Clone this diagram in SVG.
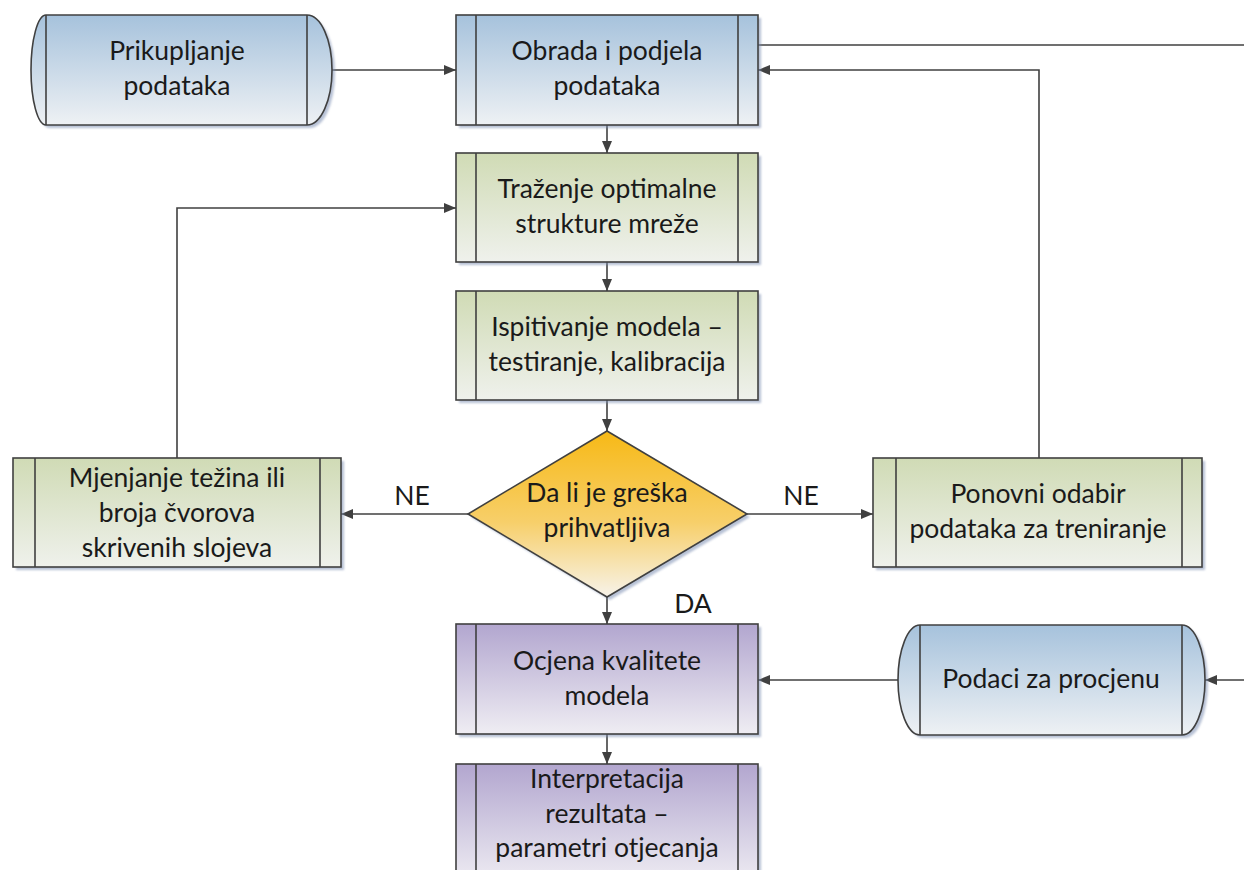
<svg xmlns="http://www.w3.org/2000/svg" width="1244" height="870" viewBox="0 0 1244 870">
<defs>
<linearGradient id="gBlue" x1="0" y1="0" x2="0" y2="1"><stop offset="0" stop-color="#a6c2dc"/><stop offset="1" stop-color="#eef1f4"/></linearGradient>
<linearGradient id="gGreen" x1="0" y1="0" x2="0" y2="1"><stop offset="0" stop-color="#d0dbb5"/><stop offset="1" stop-color="#eff1ec"/></linearGradient>
<linearGradient id="gPurple" x1="0" y1="0" x2="0" y2="1"><stop offset="0" stop-color="#b2a6cf"/><stop offset="1" stop-color="#efedf3"/></linearGradient>
<linearGradient id="gYellow" x1="0" y1="0" x2="0" y2="1"><stop offset="0" stop-color="#f7b916"/><stop offset="0.55" stop-color="#f7cf6a"/><stop offset="1" stop-color="#f7f3ea"/></linearGradient>
<filter id="sh" x="-5%" y="-5%" width="115%" height="120%"><feGaussianBlur stdDeviation="1.2"/></filter>
<marker id="ar" viewBox="0 0 12 10" refX="12" refY="5" markerWidth="12" markerHeight="10" markerUnits="userSpaceOnUse" orient="auto"><path d="M0,0 L12,5 L0,10 Z" fill="#404040"/></marker>
</defs>
<style>
.sh{fill:#7d8fb3;opacity:0.55;filter:url(#sh)}
.box{stroke:#404040;stroke-width:1.6}
.in{stroke:#404040;stroke-width:1.6;fill:none}
.t{font-family:Lato,"Open Sans",sans-serif;font-size:26.5px;fill:#1a1a1a;text-anchor:middle}
.c{stroke:#404040;stroke-width:1.6;fill:none}
</style>

<g id="connectors">
<path class="c" d="M332,70 L456,70" marker-end="url(#ar)"/>
<path class="c" d="M758,45 L1244,45"/>
<path class="c" d="M1039,458 L1039,70 L758,70" marker-end="url(#ar)"/>
<path class="c" d="M607,125 L607,153" marker-end="url(#ar)"/>
<path class="c" d="M607,262 L607,291" marker-end="url(#ar)"/>
<path class="c" d="M607,400 L607,431" marker-end="url(#ar)"/>
<path class="c" d="M607,597 L607,624" marker-end="url(#ar)"/>
<path class="c" d="M607,734 L607,764" marker-end="url(#ar)"/>
<path class="c" d="M468,514 L341,514" marker-end="url(#ar)"/>
<path class="c" d="M747,514 L873,514" marker-end="url(#ar)"/>
<path class="c" d="M177,458 L177,208 L456,208" marker-end="url(#ar)"/>
<path class="c" d="M1244,680 L1205,680" marker-end="url(#ar)"/>
<path class="c" d="M898,680 L758,680" marker-end="url(#ar)"/>
<text class="t" x="412" y="505">NE</text>
<text class="t" x="801" y="505">NE</text>
<text class="t" x="693" y="613">DA</text>
</g>

<g id="prikupljanje">
<path class="sh" d="M49,18 L310,18 A25,55 0 0 1 310,128 L49,128 A15,55 0 0 1 49,18 Z"/>
<path class="box" fill="url(#gBlue)" d="M46,15 L307,15 A25,55 0 0 1 307,125 L46,125 A15,55 0 0 1 46,15 Z"/>
<path class="in" d="M46,15 L46,125 M307,15 L307,125"/>
<text class="t" x="177" y="60">Prikupljanje</text>
<text class="t" x="177" y="95">podataka</text>
</g>

<g id="obrada">
<rect class="sh" x="459" y="18" width="302" height="110"/>
<rect class="box" fill="url(#gBlue)" x="456" y="15" width="302" height="110"/>
<path class="in" d="M476,15 L476,125 M738,15 L738,125"/>
<text class="t" x="607" y="60">Obrada i podjela</text>
<text class="t" x="607" y="95">podataka</text>
</g>

<g id="trazenje">
<rect class="sh" x="459" y="156" width="302" height="109"/>
<rect class="box" fill="url(#gGreen)" x="456" y="153" width="302" height="109"/>
<path class="in" d="M476,153 L476,262 M738,153 L738,262"/>
<text class="t" x="607" y="198">Traženje optimalne</text>
<text class="t" x="607" y="233">strukture mreže</text>
</g>

<g id="ispitivanje">
<rect class="sh" x="459" y="294" width="302" height="109"/>
<rect class="box" fill="url(#gGreen)" x="456" y="291" width="302" height="109"/>
<path class="in" d="M476,291 L476,400 M738,291 L738,400"/>
<text class="t" x="607" y="336">Ispitivanje modela –</text>
<text class="t" x="607" y="371">testiranje, kalibracija</text>
</g>

<g id="odluka">
<path class="sh" d="M610,434 L750,517 L610,600 L471,517 Z"/>
<path class="box" fill="url(#gYellow)" d="M607,431 L747,514 L607,597 L468,514 Z"/>
<text class="t" x="607" y="502">Da li je greška</text>
<text class="t" x="607" y="537">prihvatljiva</text>
</g>

<g id="mjenjanje">
<rect class="sh" x="16" y="461" width="328" height="109"/>
<rect class="box" fill="url(#gGreen)" x="13" y="458" width="328" height="109"/>
<path class="in" d="M35,458 L35,567 M320,458 L320,567"/>
<text class="t" x="177" y="487">Mjenjanje težina ili</text>
<text class="t" x="177" y="522">broja čvorova</text>
<text class="t" x="177" y="557">skrivenih slojeva</text>
</g>

<g id="ponovni">
<rect class="sh" x="876" y="461" width="329" height="109"/>
<rect class="box" fill="url(#gGreen)" x="873" y="458" width="329" height="109"/>
<path class="in" d="M896,458 L896,567 M1182,458 L1182,567"/>
<text class="t" x="1038" y="503">Ponovni odabir</text>
<text class="t" x="1038" y="538">podataka za treniranje</text>
</g>

<g id="ocjena">
<rect class="sh" x="459" y="627" width="302" height="110"/>
<rect class="box" fill="url(#gPurple)" x="456" y="624" width="302" height="110"/>
<path class="in" d="M476,624 L476,734 M738,624 L738,734"/>
<text class="t" x="607" y="670">Ocjena kvalitete</text>
<text class="t" x="607" y="705">modela</text>
</g>

<g id="podaci">
<path class="sh" d="M923,628 L1185,628 A23,55 0 0 1 1185,738 L923,738 A22,55 0 0 1 923,628 Z"/>
<path class="box" fill="url(#gBlue)" d="M920,625 L1182,625 A23,55 0 0 1 1182,735 L920,735 A22,55 0 0 1 920,625 Z"/>
<path class="in" d="M920,625 L920,735 M1182,625 L1182,735"/>
<text class="t" x="1051" y="688">Podaci za procjenu</text>
</g>

<g id="interpretacija">
<rect class="sh" x="459" y="767" width="302" height="120"/>
<rect class="box" fill="url(#gPurple)" x="456" y="764" width="302" height="120"/>
<path class="in" d="M476,764 L476,884 M738,764 L738,884"/>
<text class="t" x="607" y="788">Interpretacija</text>
<text class="t" x="607" y="823">rezultata –</text>
<text class="t" x="607" y="857">parametri otjecanja</text>
</g>
</svg>
